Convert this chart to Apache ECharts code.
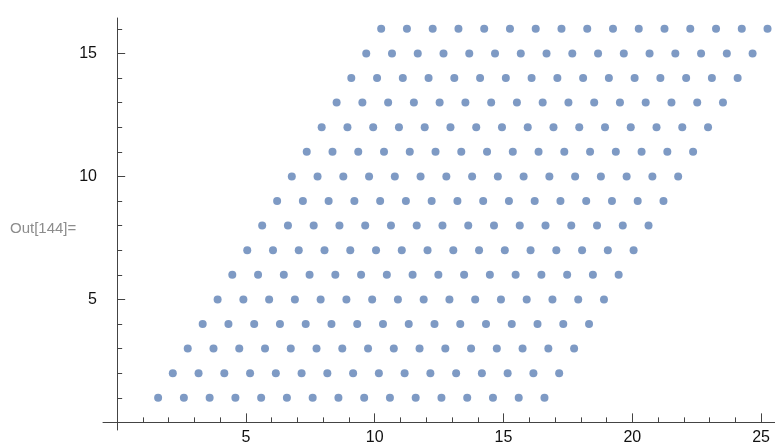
<!DOCTYPE html>
<html lang="en">
<head>
    <meta charset="UTF-8">
    <title>Lattice points</title>
    <script src="https://cdn.jsdelivr.net/npm/echarts@6/dist/echarts.min.js"></script>
    <style>
        html, body { margin: 0; padding: 0; background: #fff; }
    </style>
</head>
<body>
    <div id="main" style="width: 775px;height:444px;"></div>

    <script type="text/javascript">
        // one row of 16 points for each y = 1..16, every row shifted right
        const rowY = [1, 2, 3, 4, 5, 6, 7, 8, 9, 10, 11, 12, 13, 14, 15, 16]
        const rowStart = [1.59, 2.16, 2.74, 3.32, 3.90, 4.47, 5.05, 5.63, 6.21, 6.78, 7.36, 7.94, 8.52, 9.09, 9.67, 10.25]
        const colOffset = [0, 1, 2, 3, 4, 5, 6, 7, 8, 9, 10, 11, 12, 13, 14, 15]

        const xMajor = [5, 10, 15, 20, 25]
        const xMinor = [1, 2, 3, 4, 6, 7, 8, 9, 11, 12, 13, 14, 16, 17, 18, 19, 21, 22, 23, 24]
        const yMajor = [5, 10, 15]
        const yMinor = [1, 2, 3, 4, 6, 7, 8, 9, 11, 12, 13, 14, 16]

        const points = []
        rowY.forEach((y, r) => {
            colOffset.forEach(c => {
                points.push([rowStart[r] + c, y])
            })
        })

        const axisColor = '#444'
        const labelStyle = { color: '#111', fontSize: 16, fontFamily: 'Liberation Sans, Arial, sans-serif' }

        var myChart = echarts.init(document.getElementById('main'));

        var option = {
            animation: false,
            backgroundColor: '#fff',
            graphic: [
                {   // Mathematica output label
                    type: 'text',
                    left: 10,
                    top: 221,
                    style: {
                        text: 'Out[144]=',
                        fill: '#8c8c8c',
                        fontSize: 15,
                        fontFamily: 'Liberation Sans, Arial, sans-serif'
                    }
                }
            ],
            grid: {
                left: 103,
                right: 0,
                top: 18,
                bottom: 14,
                containLabel: false,
                outerBoundsMode: 'none'
            },
            xAxis: [
                {
                    type: 'value',
                    position: 'bottom',
                    min: -0.55,
                    max: 25.54,
                    axisLine: { show: true, onZero: true, lineStyle: { color: axisColor, width: 1 } },
                    axisTick: { show: true, inside: true, length: 9, customValues: xMajor, lineStyle: { color: axisColor } },
                    axisLabel: { show: true, customValues: xMajor, margin: 0, ...labelStyle },
                    splitLine: { show: false }
                },
                {
                    type: 'value',
                    position: 'bottom',
                    min: -0.55,
                    max: 25.54,
                    axisLine: { show: false, onZero: true },
                    axisTick: { show: true, inside: true, length: 5, customValues: xMinor, lineStyle: { color: axisColor } },
                    axisLabel: { show: false },
                    splitLine: { show: false }
                }
            ],
            yAxis: [
                {
                    type: 'value',
                    position: 'left',
                    min: -0.31,
                    max: 16.44,
                    axisLine: { show: true, onZero: true, lineStyle: { color: axisColor, width: 1 } },
                    axisTick: { show: true, inside: true, length: 8, customValues: yMajor, lineStyle: { color: axisColor } },
                    axisLabel: { show: true, customValues: yMajor, margin: 6, ...labelStyle },
                    splitLine: { show: false }
                },
                {
                    type: 'value',
                    position: 'left',
                    min: -0.31,
                    max: 16.44,
                    axisLine: { show: false, onZero: true },
                    axisTick: { show: true, inside: true, length: 5, customValues: yMinor, lineStyle: { color: axisColor } },
                    axisLabel: { show: false },
                    splitLine: { show: false }
                }
            ],
            series: [
                {
                    type: 'scatter',
                    xAxisIndex: 0,
                    yAxisIndex: 0,
                    symbol: 'circle',
                    symbolSize: 8,
                    itemStyle: { color: '#5e81b5' },
                    silent: true,
                    data: points
                }
            ]
        };

        myChart.setOption(option);
    </script>
</body>
</html>
